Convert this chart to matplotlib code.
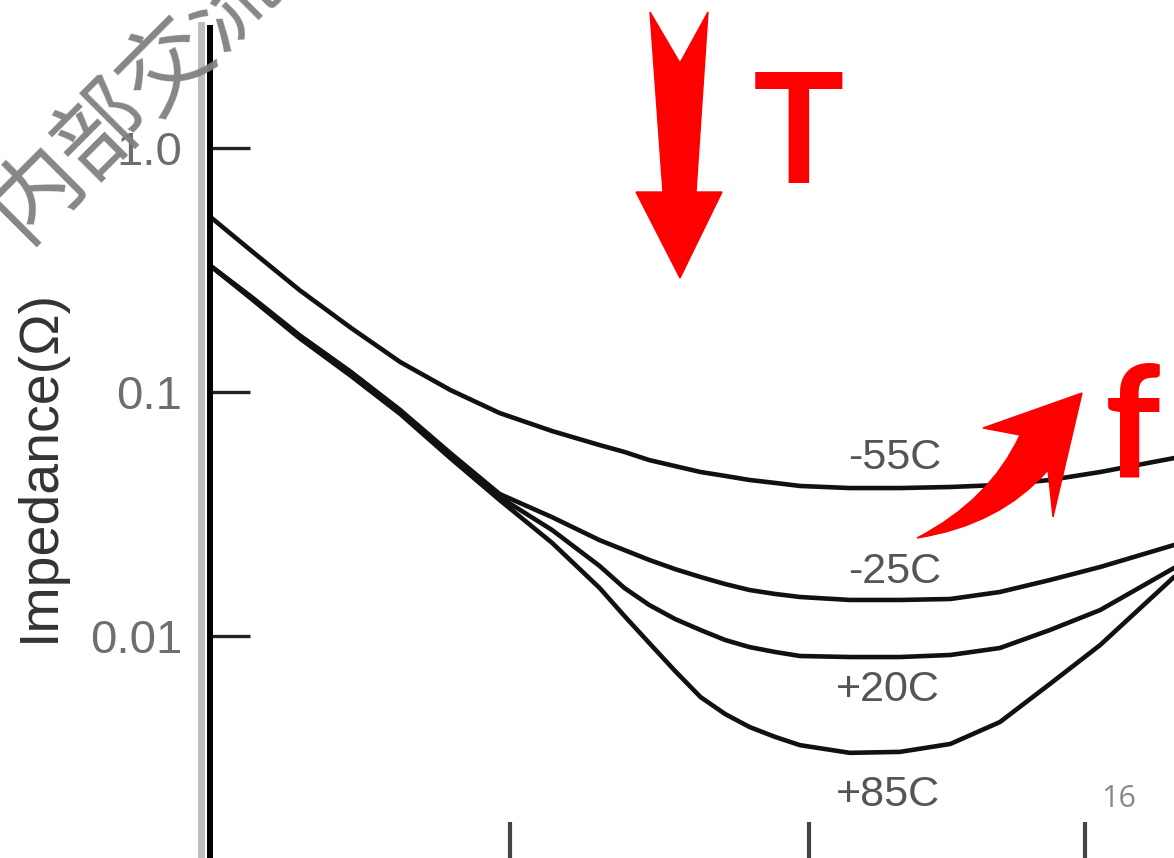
import numpy as np
import matplotlib
matplotlib.use("Agg")
import matplotlib.pyplot as plt
from matplotlib.patches import Polygon, PathPatch
from matplotlib.path import Path
from matplotlib.lines import Line2D

# frequency (Hz) and impedance (ohm)
freq = [90, 125, 185, 280, 415, 620, 920, 1400, 2050, 2500, 3050, 3750,
        4600, 5600, 6800, 8350, 10200, 15200, 22700, 34000, 50600, 75500, 113000, 204000]
z_m55 = [0.526, 0.382, 0.262, 0.183, 0.1327, 0.1019, 0.082, 0.0692, 0.0606, 0.0568, 0.0526, 0.0497,
         0.047, 0.0453, 0.0436, 0.0424, 0.0412, 0.0404, 0.0404, 0.0408, 0.0416, 0.0436, 0.047, 0.0536]
z_m25 = [0.3315, 0.2474, 0.1712, 0.1208, 0.0844, 0.0562, 0.0382, 0.0307, 0.0247, 0.0225, 0.0205, 0.0188,
         0.01745, 0.01633, 0.01544, 0.01487, 0.01445, 0.01405, 0.01405, 0.01418, 0.01515, 0.01696,
         0.01918, 0.0236]
z_p20 = [0.3315, 0.2451, 0.168, 0.1174, 0.0828, 0.0547, 0.0371, 0.0272, 0.01936, 0.01573, 0.0134,
         0.01174, 0.01058, 0.00963, 0.00901, 0.0086, 0.00828, 0.0082, 0.0082, 0.00836, 0.00893,
         0.01058, 0.01278, 0.019]
z_p85 = [0.3315, 0.2428, 0.1665, 0.1163, 0.0813, 0.0536, 0.0361, 0.0241, 0.01573, 0.01208, 0.00936,
         0.00719, 0.00562, 0.00479, 0.00424, 0.00386, 0.00357, 0.00332, 0.00335, 0.00361, 0.00444,
         0.00636, 0.00919, 0.01745]
series = [("-55C", z_m55), ("-25C", z_m25), ("+20C", z_p20), ("+85C", z_p85)]
label_pos = {"-55C": (21800, 0.0536), "-25C": (21800, 0.0183),
             "+20C": (20600, 0.0060), "+85C": (20600, 0.00223)}

yticks = [1.0, 0.1, 0.01]
ytick_labels = ["1.0", "0.1", "0.01"]
xticks = [1e3, 1.1e4, 1e5]

W, H = 1174, 858
fig = plt.figure(figsize=(W / 100, H / 100), dpi=100)
ax = fig.add_axes([210 / W, 0, 1 - 210 / W, 1])
ax.set_xscale("log")
ax.set_yscale("log")
ax.set_xlim(10 ** (3 - 300 / 287.5), 10 ** (3 + 664 / 287.5))
ax.set_ylim(10 ** (-1 - 466 / 244), 10 ** (-1 + 392 / 244))

for name, z in series:
    ax.plot(freq, z, color="#111111", lw=3.3, solid_capstyle="round", solid_joinstyle="round")
    x, y = label_pos[name]
    ax.text(x, y, name, ha="center", va="center", fontsize=31,
            family=["Liberation Sans", "DejaVu Sans"], color="#555555")

for s in ["top", "right", "bottom"]:
    ax.spines[s].set_visible(False)
ax.spines["left"].set_linewidth(4.3)
ax.spines["left"].set_bounds(ax.get_ylim()[0], 3.1)

ax.set_yticks(yticks)
ax.set_yticklabels(ytick_labels)
ax.minorticks_off()
ax.tick_params(axis="y", direction="in", length=29, width=2.4, color="#222222",
               pad=20, labelsize=34, labelcolor="#6e6e6e")
ax.set_xticks(xticks)
ax.set_xticklabels([])
ax.tick_params(axis="x", direction="in", length=26, width=3.0, color="#444444")
for lab in ax.get_yticklabels():
    lab.set_family(["Liberation Sans", "DejaVu Sans"])

# gray edge beside the axis
fig.add_artist(Line2D([201 / W, 201 / W], [0, 1 - 25 / H], color="#bdbdbd", lw=5))

fig.text(40 / W, 1 - 465 / H, "Impedance(\u03a9)", rotation=90, ha="center", va="center",
         fontsize=40, family=["Liberation Sans", "DejaVu Sans"], color="#333333")


def fp(px, py):
    return (px / W, 1 - py / H)


# red down arrow
down = [(650, 12), (680, 63), (708, 12), (696, 192), (722, 192), (680, 278), (636, 192), (663, 192)]
fig.add_artist(Polygon([fp(*p) for p in down], closed=True, color="red",
                       transform=fig.transFigure))

# curved arrow
verts = [fp(917, 538), fp(990, 500), fp(1020, 435), fp(983, 428), fp(1082, 393),
         fp(1053, 517), fp(1048, 470), fp(1000, 525), fp(917, 538), fp(917, 538)]
codes = [Path.MOVETO, Path.CURVE3, Path.CURVE3, Path.LINETO, Path.LINETO,
         Path.LINETO, Path.LINETO, Path.CURVE3, Path.CURVE3, Path.CLOSEPOLY]
fig.add_artist(PathPatch(Path(verts, codes), color="red", transform=fig.transFigure))

fig.text(799 / W, 1 - 139 / H, "T", ha="center", va="center", fontsize=110,
         fontweight="bold", family=["Lato", "DejaVu Sans"], color="red")
fig.text(1133 / W, 1 - 432 / H, "f", ha="center", va="center", fontsize=112,
         fontweight="bold", family=["Lato", "DejaVu Sans"], color="red")

fig.text(1119 / W, 1 - 799 / H, "16", ha="center", va="center", fontsize=22,
         family=["Open Sans", "DejaVu Sans"], color="#888888")

# watermark
fig.text(135 / W, 1 - 95 / H, "内部交流", rotation=45, ha="center", va="center",
         fontsize=66, family=["Noto Sans CJK SC", "DejaVu Sans"], color="#808080",
         alpha=0.95, zorder=10)

fig.savefig("out.png", dpi=100)
